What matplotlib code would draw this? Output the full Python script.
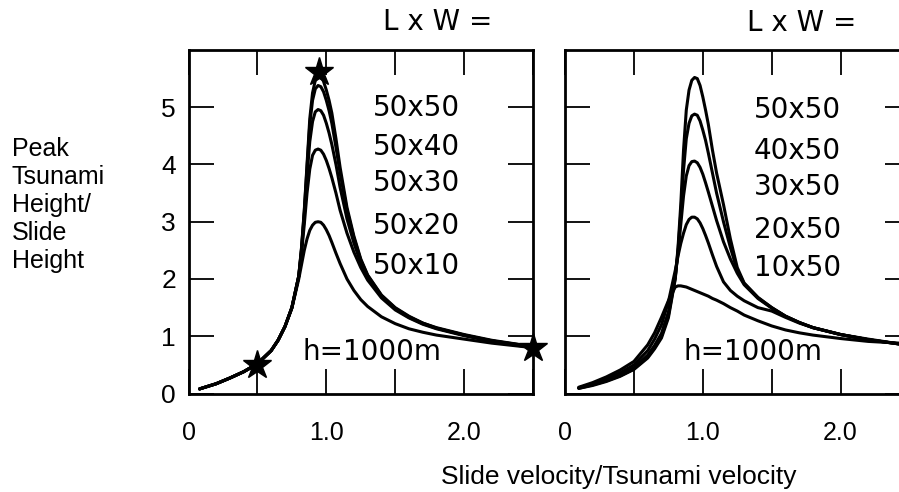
import matplotlib
matplotlib.use("Agg")
import matplotlib.pyplot as plt

plt.rcParams['font.family'] = ['Liberation Sans', 'DejaVu Sans']

# ---- data ----
x_left = [0.08, 0.2, 0.3, 0.4, 0.5, 0.6, 0.65, 0.7, 0.75, 0.8, 0.82, 0.84, 0.86, 0.88,
          0.9, 0.92, 0.94, 0.96, 0.98, 1.0, 1.02, 1.04, 1.07, 1.1, 1.15, 1.2, 1.25,
          1.3, 1.4, 1.5, 1.6, 1.7, 1.8, 2.0, 2.2, 2.5]
rise_left = [0.08, 0.17, 0.27, 0.38, 0.52, 0.75, 0.93, 1.17, 1.5, 2.05]

y_50x50 = rise_left + [2.55, 3.2, 4.0, 4.8, 5.25, 5.47, 5.55, 5.55, 5.45, 5.3, 5.12, 4.9,
                       4.45, 3.95, 3.25, 2.75, 2.35, 2.07, 1.72, 1.5, 1.35, 1.23, 1.15,
                       1.03, 0.93, 0.82]
y_50x40 = rise_left + [2.53, 3.17, 3.95, 4.7, 5.12, 5.32, 5.38, 5.36, 5.27, 5.12, 4.94, 4.72,
                       4.3, 3.85, 3.2, 2.72, 2.33, 2.06, 1.71, 1.49, 1.34, 1.23, 1.14,
                       1.02, 0.92, 0.82]
y_50x30 = rise_left + [2.5, 3.1, 3.8, 4.4, 4.75, 4.92, 4.96, 4.94, 4.86, 4.72, 4.55, 4.35,
                       4.0, 3.6, 3.05, 2.63, 2.28, 2.03, 1.7, 1.48, 1.33, 1.22, 1.14,
                       1.02, 0.92, 0.81]
y_50x20 = rise_left + [2.45, 2.95, 3.5, 3.92, 4.16, 4.25, 4.27, 4.25, 4.18, 4.07, 3.93, 3.77,
                       3.5, 3.2, 2.8, 2.47, 2.2, 1.98, 1.67, 1.46, 1.32, 1.21, 1.13,
                       1.01, 0.91, 0.8]
y_50x10 = rise_left[:8] + [1.49, 2.0, 2.25, 2.5, 2.7, 2.85, 2.94, 2.99, 3.0, 2.99, 2.94, 2.86,
                           2.76, 2.64, 2.45, 2.27, 2.0, 1.8, 1.64, 1.52, 1.34, 1.22, 1.13,
                           1.07, 1.02, 0.95, 0.88, 0.8]

x_right = [0.1] + x_left[1:]
y_r50x50 = [0.09, 0.14, 0.21, 0.3, 0.42, 0.62, 0.78, 0.97, 1.32, 2.0, 2.55, 3.3, 4.25, 4.95,
            5.3, 5.47, 5.52, 5.5, 5.38, 5.18, 4.95, 4.7, 4.25, 3.85, 3.3, 2.7, 2.2, 1.93,
            1.68, 1.5, 1.35, 1.24, 1.15, 1.03, 0.95, 0.84]
y_r40x50 = [0.09, 0.15, 0.22, 0.31, 0.43, 0.64, 0.8, 1.0, 1.36, 2.02, 2.5, 3.15, 3.9, 4.45,
            4.72, 4.85, 4.88, 4.86, 4.76, 4.6, 4.42, 4.2, 3.85, 3.5, 3.0, 2.55, 2.15, 1.92,
            1.67, 1.5, 1.35, 1.24, 1.15, 1.03, 0.94, 0.84]
y_r30x50 = [0.1, 0.16, 0.24, 0.33, 0.45, 0.67, 0.84, 1.05, 1.42, 2.05, 2.45, 2.95, 3.45, 3.8,
            3.98, 4.05, 4.06, 4.03, 3.95, 3.83, 3.68, 3.52, 3.27, 3.02, 2.65, 2.35, 2.1, 1.9,
            1.66, 1.49, 1.35, 1.24, 1.15, 1.03, 0.94, 0.84]
y_r20x50 = [0.1, 0.17, 0.26, 0.36, 0.5, 0.75, 0.95, 1.2, 1.6, 2.15, 2.4, 2.62, 2.8, 2.95,
            3.04, 3.08, 3.08, 3.05, 2.98, 2.88, 2.76, 2.63, 2.42, 2.22, 1.95, 1.8, 1.7, 1.62,
            1.5, 1.44, 1.33, 1.23, 1.15, 1.03, 0.94, 0.84]
y_r10x50 = [0.11, 0.19, 0.29, 0.41, 0.56, 0.85, 1.06, 1.33, 1.62, 1.86, 1.88, 1.88, 1.87, 1.86,
            1.84, 1.82, 1.8, 1.78, 1.76, 1.74, 1.72, 1.7, 1.66, 1.63, 1.57, 1.5, 1.44, 1.37,
            1.27, 1.18, 1.11, 1.06, 1.02, 0.96, 0.91, 0.87]

left_curves = [y_50x50, y_50x40, y_50x30, y_50x20, y_50x10]
right_curves = [y_r50x50, y_r40x50, y_r30x50, y_r20x50, y_r10x50]
left_labels = ['50x50', '50x40', '50x30', '50x20', '50x10']
right_labels = ['50x50', '40x50', '30x50', '20x50', '10x50']
left_label_y = [4.98, 4.3, 3.67, 2.93, 2.23]
right_label_y = [4.96, 4.23, 3.6, 2.86, 2.2]

star_x = [0.5, 0.95, 2.5]
star_y = [0.5, 5.62, 0.8]

xtick_pos = [0, 0.5, 1.0, 1.5, 2.0, 2.5]
xtick_lab = ['0', '', '1.0', '', '2.0', '']
ytick_pos = [0, 1, 2, 3, 4, 5]

fig = plt.figure(figsize=(8.99, 4.92), dpi=100)
axl = fig.add_axes([0.2097, 0.2002, 0.3832, 0.6982])
axr = fig.add_axes([0.6285, 0.2002, 0.3832, 0.6982])

for ax, xs, curves, labels, ly, lx, hx in [
        (axl, x_left, left_curves, left_labels, left_label_y, 1.34, 0.83),
        (axr, x_right, right_curves, right_labels, right_label_y, 1.37, 0.86)]:
    for ys in curves:
        ax.plot(xs, ys, color='black', lw=2.2, solid_capstyle='round')
    for lab, yy in zip(labels, ly):
        ax.text(lx, yy, lab, fontsize=20, family='DejaVu Sans', va='center', ha='left')
    ax.text(hx, 0.72, 'h=1000m', fontsize=20, family='DejaVu Sans', va='center', ha='left')
    ax.set_xlim(0, 2.5)
    ax.set_ylim(0, 6)
    ax.set_xticks(xtick_pos)
    ax.set_xticklabels(xtick_lab)
    ax.set_yticks(ytick_pos)
    ax.tick_params(direction='in', length=18, width=1.3, top=True, right=True,
                   labelsize=18, pad=20)
    ax.tick_params(axis='y', labelsize=19, pad=9)
    for sp in ax.spines.values():
        sp.set_linewidth(2.0)

axr.set_yticklabels([])

axl.plot(star_x, star_y, linestyle='none', marker='*', markersize=21,
         color='black', clip_on=False, zorder=5)

axl.text(1.81, 6.49, 'L x W =', fontsize=20, family='DejaVu Sans', ha='center', va='center')
axr.text(1.72, 6.47, 'L x W =', fontsize=20, family='DejaVu Sans', ha='center', va='center')

fig.text(12 / 899, 1 - 205 / 492, 'Peak\nTsunami\nHeight/\nSlide\nHeight',
         fontsize=18, ha='left', va='center', linespacing=1.2)
fig.text(619 / 899, 1 - 477 / 492, 'Slide velocity/Tsunami velocity',
         fontsize=19, ha='center', va='center')

fig.savefig('out.png', dpi=100)
